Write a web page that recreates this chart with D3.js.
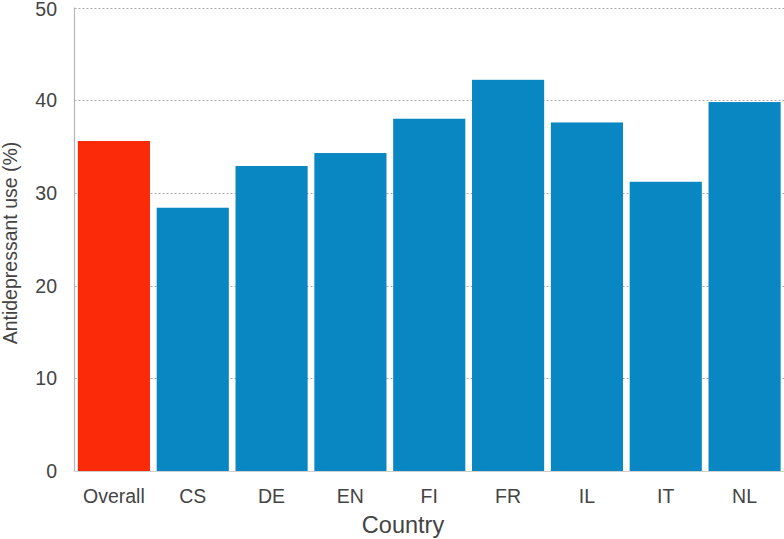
<!DOCTYPE html>
<html><head><meta charset="utf-8">
<script src="https://cdn.jsdelivr.net/npm/d3@7"></script>
<style>body{margin:0;background:#fff}text{font-family:"Liberation Sans",Arial,sans-serif;fill:#444}</style>
</head><body>
<svg id="c" width="784" height="539"></svg>
<script>
const categories = ["Overall","CS","DE","EN","FI","FR","IL","IT","NL"];
const values = [35.6,28.4,32.9,34.3,38.0,42.2,37.6,31.2,39.8];
const yTicks = [0,10,20,30,40,50];

const svg = d3.select("#c");
const L = 74.5, R = 784, T = 7.5, B = 471;
const x = d3.scaleBand().domain(categories).range([L,R]).paddingInner(0.085).paddingOuter(0.0425);
const y = d3.scaleLinear().domain([0,50]).range([B,T]);

// gridlines
svg.append("g").selectAll("line").data(yTicks.filter(d=>d>0)).join("line")
  .attr("x1",L).attr("x2",R).attr("y1",d=>Math.round(y(d))+0.5).attr("y2",d=>Math.round(y(d))+0.5)
  .attr("stroke","#aaa").attr("stroke-dasharray","2,2").attr("stroke-width",1);

// bars
svg.append("g").selectAll("rect").data(categories).join("rect")
  .attr("x",d=>x(d)).attr("width",x.bandwidth())
  .attr("y",(d,i)=>y(values[i])).attr("height",(d,i)=>B-y(values[i]))
  .attr("fill",(d,i)=>i===0?"#fb2a08":"#0887c3");

// axes lines
svg.append("line").attr("x1",L).attr("x2",L).attr("y1",T).attr("y2",B+0.5).attr("stroke","#b5b5b5").attr("stroke-width",1.2);
svg.append("line").attr("x1",L).attr("x2",R).attr("y1",B+0.5).attr("y2",B+0.5).attr("stroke","#cfcfcf").attr("stroke-width",1.2);

// y tick labels
svg.append("g").selectAll("text").data(yTicks).join("text")
  .attr("x",57).attr("y",d=>Math.max(y(d)+7,15.5)).attr("text-anchor","end").attr("font-size",19.5).text(d=>d);

// x tick labels
svg.append("g").selectAll("text").data(categories).join("text")
  .attr("x",d=>x(d)+x.bandwidth()/2).attr("y",503).attr("text-anchor","middle").attr("font-size",19.5).text(d=>d);

// titles
svg.append("text").attr("x",403).attr("y",533).attr("text-anchor","middle").attr("font-size",23.5).text("Country");
svg.append("text").attr("transform","translate(17,243) rotate(-90)").attr("text-anchor","middle").attr("font-size",19.5).text("Antidepressant use (%)");
</script>
</body></html>
